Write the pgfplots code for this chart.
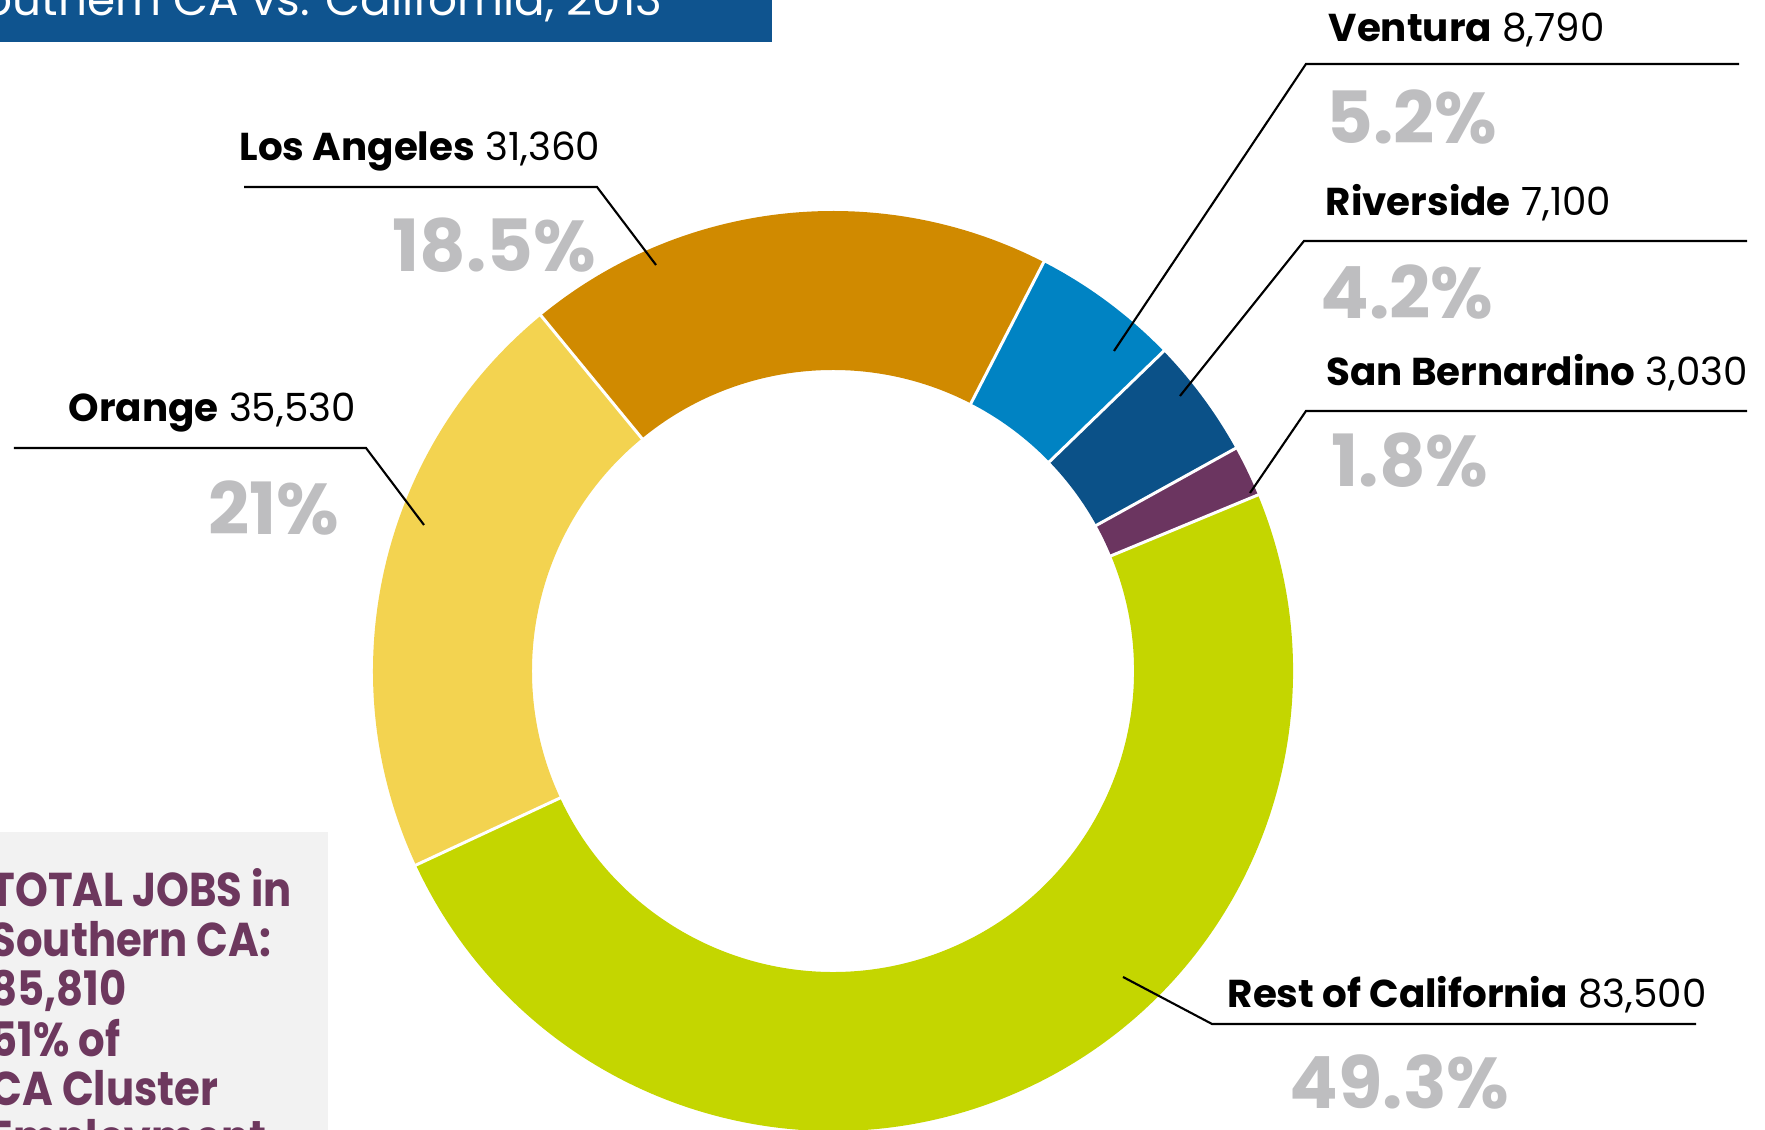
\documentclass[border=0pt]{standalone}
\usepackage{fontspec}
\setmainfont{Poppins}
\usepackage{pgfplots}
\pgfplotsset{compat=1.18}
\definecolor{cRest}{RGB}{196,214,0}
\definecolor{cOra}{RGB}{243,211,80}
\definecolor{cLA}{RGB}{208,138,0}
\definecolor{cVen}{RGB}{0,131,195}
\definecolor{cRiv}{RGB}{11,81,136}
\definecolor{cSanB}{RGB}{107,53,96}
\definecolor{cBar}{RGB}{15,84,143}
\definecolor{cBox}{RGB}{242,242,242}
\definecolor{cBoxTxt}{RGB}{109,56,94}
\definecolor{cPct}{RGB}{190,190,192}
\newcommand{\slice}[3]{\fill[#3] (axis cs:833,459) ++(#1:46mm) arc[start angle=#1, end angle=#2, radius=46mm] -- ++(#2+180:15.9mm) arc[start angle=#2, end angle=#1, radius=30.1mm] -- cycle;}
\newcommand{\sep}[1]{\draw[white, line width=0.3mm] (axis cs:833,459) ++(#1:29.5mm) -- ++(#1:17mm);}
\tikzset{lab/.style={anchor=base west, inner sep=0, font=\fontsize{11.05}{13}\selectfont},
         pct/.style={anchor=base west, inner sep=0, text=cPct, font=\fontsize{20.5}{24}\selectfont\bfseries}}
% values (jobs)
\def\vSanB{3030}\def\vRiv{7100}\def\vVen{8790}\def\vLA{31360}\def\vOra{35530}\def\vRest{83500}%
\edef\tot{\fpeval{\vSanB+\vRiv+\vVen+\vLA+\vOra+\vRest}}%
\edef\aA{22.5}%
\edef\aB{\fpeval{round(\aA+\vSanB/\tot*360,3)}}%
\edef\aC{\fpeval{round(\aB+\vRiv/\tot*360,3)}}%
\edef\aD{\fpeval{round(\aC+\vVen/\tot*360,3)}}%
\edef\aE{\fpeval{round(\aD+\vLA/\tot*360,3)}}%
\edef\aF{\fpeval{round(\aE+\vOra/\tot*360,3)}}%
\edef\aG{\fpeval{round(\aF+\vRest/\tot*360,3)}}%
\begin{document}%
\begin{tikzpicture}
\begin{axis}[scale only axis, width=176.5mm, height=113mm,
  xmin=0, xmax=1765, ymin=0, ymax=1130, hide axis, clip=false]
\coordinate (SW) at (axis cs:0,0);
\coordinate (NE) at (axis cs:1765,1130);
% donut slices
\slice{\aA}{\aB}{cSanB}
\slice{\aB}{\aC}{cRiv}
\slice{\aC}{\aD}{cVen}
\slice{\aD}{\aE}{cLA}
\slice{\aE}{\aF}{cOra}
\slice{\aF}{\aG}{cRest}
\sep{\aA}\sep{\aB}\sep{\aC}\sep{\aD}\sep{\aE}\sep{\aF}
% title bar
\fill[cBar] (axis cs:-5,1088) rectangle (axis cs:772,1140);
\node[anchor=base east, inner sep=0, text=white, font=\fontsize{12.9}{16}\selectfont] at (axis cs:663,1114) {Southern CA vs. California, 2013};
% total box
\fill[cBox] (axis cs:-5,-10) rectangle (axis cs:328,298);
\node[anchor=base west, inner sep=0, text=cBoxTxt] at (axis cs:-10,223) {\scalebox{0.88}[1]{\fontsize{13.5}{13.3}\selectfont\bfseries\begin{tabular}[t]{@{}l@{}}TOTAL JOBS in\\Southern CA:\\85,810\\51\% of\\CA Cluster\\Employment\end{tabular}}};
% leader lines
\draw[line width=0.6pt] (axis cs:244,943) -- (axis cs:597,943) -- (axis cs:656,865);
\draw[line width=0.6pt] (axis cs:14,682) -- (axis cs:366,682) -- (axis cs:424,605);
\draw[line width=0.6pt] (axis cs:1114,779) -- (axis cs:1306,1066) -- (axis cs:1739,1066);
\draw[line width=0.6pt] (axis cs:1180,734) -- (axis cs:1304,889) -- (axis cs:1747,889);
\draw[line width=0.6pt] (axis cs:1250,637) -- (axis cs:1306,719) -- (axis cs:1747,719);
\draw[line width=0.6pt] (axis cs:1123,153) -- (axis cs:1212,106) -- (axis cs:1696,106);
% labels
\node[lab] at (axis cs:239,969) {\textbf{Los Angeles} 31,360};
\node[pct] at (axis cs:392,858) {18.5\%};
\node[lab] at (axis cs:68,708) {\textbf{Orange} 35,530};
\node[pct] at (axis cs:208,595) {21\%};
\node[lab] at (axis cs:1328,1088) {\textbf{Ventura} 8,790};
\node[pct] at (axis cs:1326,986) {5.2\%};
\node[lab] at (axis cs:1325,914) {\textbf{Riverside} 7,100};
\node[pct] at (axis cs:1320,811) {4.2\%};
\node[lab] at (axis cs:1326,744) {\textbf{San Bernardino} 3,030};
\node[pct] at (axis cs:1331,643) {1.8\%};
\node[lab] at (axis cs:1227,122) {\textbf{Rest of California} 83,500};
\node[pct] at (axis cs:1289,21) {49.3\%};
\end{axis}
\pgfresetboundingbox
\useasboundingbox (SW) rectangle (NE);
\end{tikzpicture}%
\end{document}
